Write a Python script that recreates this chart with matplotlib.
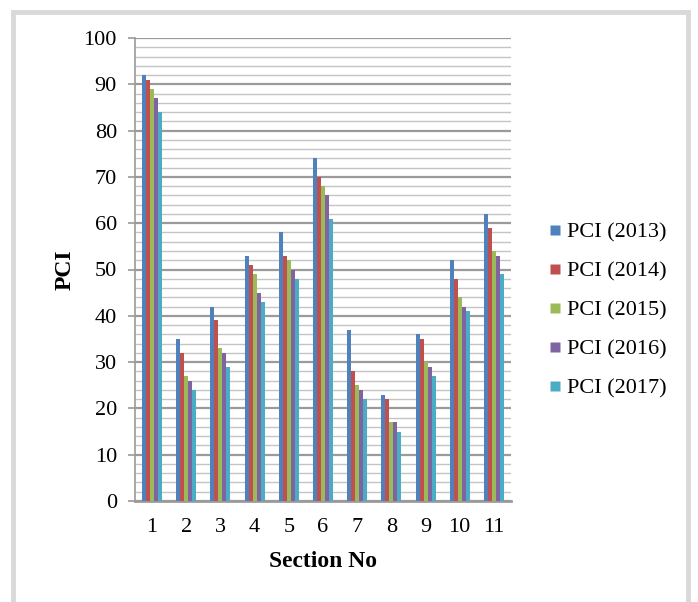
import matplotlib
matplotlib.use("Agg")
import matplotlib.pyplot as plt
import numpy as np
from matplotlib.lines import Line2D
from matplotlib.patches import Rectangle

sections = ["1", "2", "3", "4", "5", "6", "7", "8", "9", "10", "11"]
series_names = ["PCI (2013)", "PCI (2014)", "PCI (2015)", "PCI (2016)", "PCI (2017)"]
pci_2013 = [92, 35, 42, 53, 58, 74, 37, 23, 36, 52, 62]
pci_2014 = [91, 32, 39, 51, 53, 70, 28, 22, 35, 48, 59]
pci_2015 = [89, 27, 33, 49, 52, 68, 25, 17, 30, 44, 54]
pci_2016 = [87, 26, 32, 45, 50, 66, 24, 17, 29, 42, 53]
pci_2017 = [84, 24, 29, 43, 48, 61, 22, 15, 27, 41, 49]
colors = ["#4F81BD", "#C0504D", "#9BBB59", "#8064A2", "#4BACC6"]

plt.rcParams['font.family'] = ['Liberation Serif', 'DejaVu Serif']

fig = plt.figure(figsize=(6.98, 6.02), dpi=100)
ax = fig.add_axes([135/698, 1-501/602, 376/698, 463/602])

# outer frame
fig.patches.append(Rectangle((13/698, -0.05), (688-13)/698, (602-12)/602 + 0.05,
                             transform=fig.transFigure, fill=False,
                             edgecolor="#d9d9d9", linewidth=3.5))

all_series = [pci_2013, pci_2014, pci_2015, pci_2016, pci_2017]
x = np.arange(len(sections))
bw = 0.117
for i, (vals, c) in enumerate(zip(all_series, colors)):
    ax.bar(x + (i - 2) * bw, vals, width=bw, color=c, edgecolor="none", zorder=3)

ax.set_xlim(-0.5, len(sections) - 0.5)
ax.set_ylim(0, 100)
ax.set_yticks(np.arange(0, 101, 10))
ax.set_yticks(np.arange(0, 101, 2), minor=True)
ax.set_xticks(x)
ax.set_xticklabels(sections)

ax.grid(axis='y', which='major', color="#9a9a9a", linewidth=1.6, zorder=0)
ax.grid(axis='y', which='minor', color="#c4c4c4", linewidth=1.0, zorder=0)
ax.set_axisbelow(True)

for s in ["top", "right"]:
    ax.spines[s].set_visible(False)
ax.spines["left"].set_color("#9a9a9a")
ax.spines["left"].set_linewidth(1.2)
ax.spines["bottom"].set_color("#9a9a9a")
ax.spines["bottom"].set_linewidth(2.0)

ax.tick_params(axis='y', which='major', direction='out', length=5, width=1.2,
               color="#9a9a9a", labelsize=16, pad=8)
ax.tick_params(axis='y', which='minor', length=0)
ax.tick_params(axis='x', length=0, labelsize=16, pad=12)

ax.set_xlabel("Section No", fontsize=17, fontweight='bold', labelpad=10)
ax.set_ylabel("PCI", fontsize=17, fontweight='bold', labelpad=6)

handles = [Line2D([0], [0], marker='s', linestyle='none', markersize=7.5,
                  markerfacecolor=c, markeredgecolor='none') for c in colors]
fig.legend(handles, series_names, loc='center left', bbox_to_anchor=(537/698, 1-310/602),
           frameon=False, fontsize=16, handlelength=0.6, handletextpad=0.25,
           labelspacing=0.83, borderpad=0)

fig.savefig("out.png", dpi=100)
